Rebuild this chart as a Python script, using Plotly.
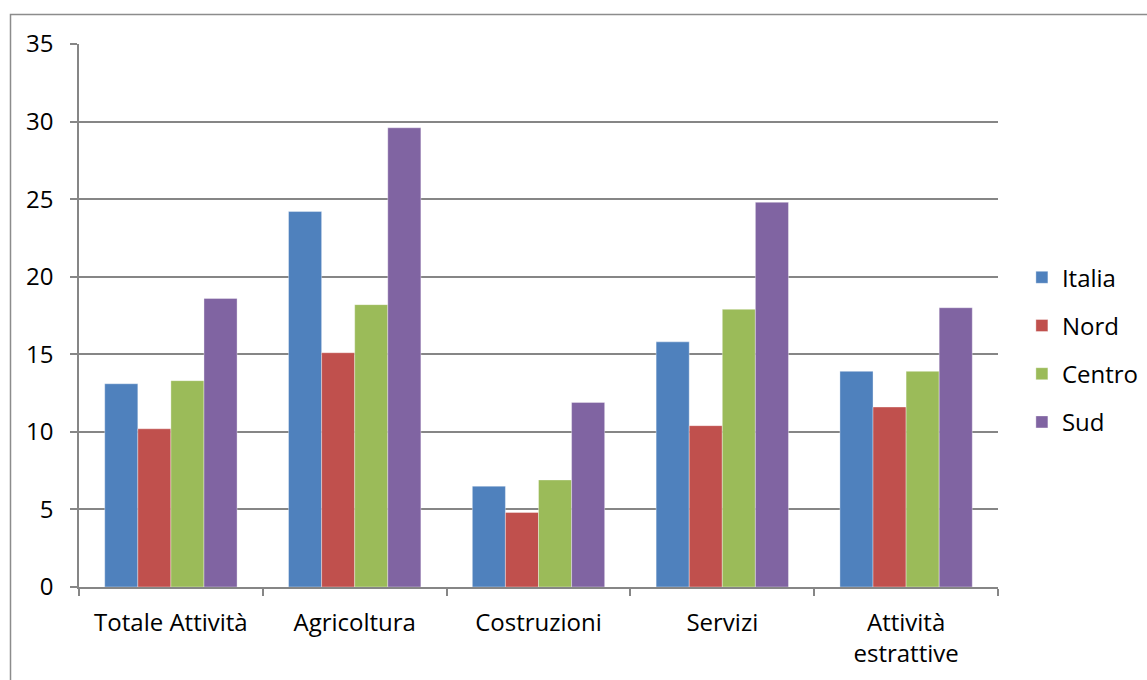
import plotly.graph_objects as go

categories = ["Totale Attività", "Agricoltura", "Costruzioni", "Servizi", "Attività<br>estrattive"]
italia = [13.1, 24.2, 6.5, 15.8, 13.9]
nord = [10.2, 15.1, 4.8, 10.4, 11.6]
centro = [13.3, 18.2, 6.9, 17.9, 13.9]
sud = [18.6, 29.6, 11.9, 24.8, 18.0]
series_names = ["Italia", "Nord", "Centro", "Sud"]
colors = ["#4F81BD", "#C0504D", "#9BBB59", "#8064A2"]
y_ticks = [0, 5, 10, 15, 20, 25, 30, 35]

W, H = 1147, 680
ml, mr, mt, mb = 79, 149, 44, 93
FONT = "Open Sans"
FS = 24

fig = go.Figure()
for name, vals, col in zip(series_names, [italia, nord, centro, sud], colors):
    fig.add_trace(go.Bar(
        name=name, x=categories, y=vals,
        marker=dict(color=col, line=dict(width=0.6, color="rgba(255,255,255,0.6)")),
        legendgroup=name,
    ))

pw = W - ml - mr
ph = H - mt - mb
fig.add_shape(type="rect", xref="paper", yref="paper",
              x0=(10.5 - ml) / pw, x1=(1160 - ml) / pw,
              y0=-(700 - mt - ph) / ph, y1=(ph + mt - 14.5) / ph,
              line=dict(color="#8c8c8c", width=1.5), fillcolor="rgba(0,0,0,0)", layer="below")

fig.update_layout(
    width=W, height=H,
    margin=dict(l=ml, r=mr, t=mt, b=mb, autoexpand=False),
    paper_bgcolor="white", plot_bgcolor="white",
    barmode="group", bargap=0.28, bargroupgap=0,
    font=dict(family=FONT, size=FS, color="black"),
    legend=dict(x=1.026, xanchor="left", xref="paper", y=0.437, yanchor="middle",
                tracegroupgap=14, font=dict(family=FONT, size=FS, color="black"),
                itemwidth=30, bgcolor="rgba(0,0,0,0)"),
    showlegend=True,
)
fig.update_xaxes(
    showline=True, linecolor="#868686", linewidth=1.5,
    ticks="outside", tickson="boundaries", ticklen=7, tickcolor="#868686", tickwidth=1.5,
    showgrid=False, ticklabelstandoff=13,
    tickfont=dict(family=FONT, size=FS, color="black"),
)
fig.update_yaxes(
    range=[0, 35], tickvals=y_ticks,
    showline=True, linecolor="#868686", linewidth=1.5,
    ticks="outside", ticklen=7, tickcolor="#868686", tickwidth=1.5,
    showgrid=True, gridcolor="#868686", gridwidth=1.5,
    zeroline=False, ticklabelstandoff=12,
    tickfont=dict(family=FONT, size=FS, color="black"),
)
fig.write_html("out.html")
